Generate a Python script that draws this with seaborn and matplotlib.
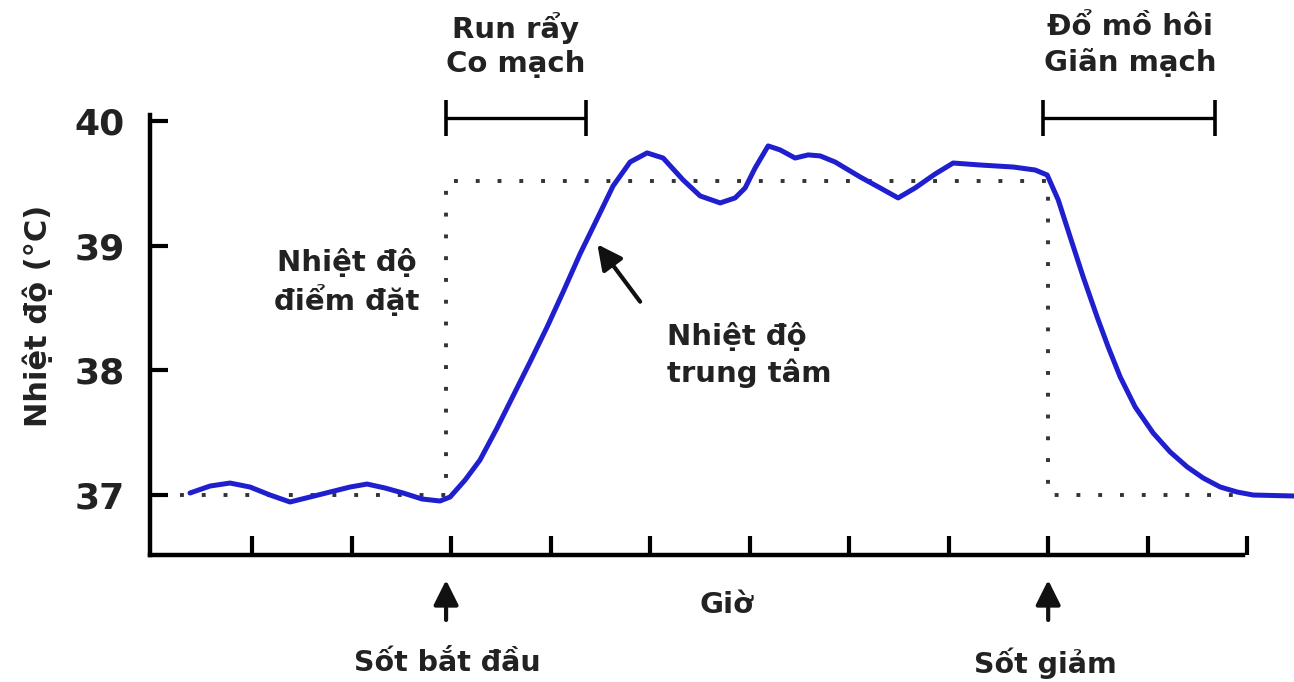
import matplotlib
matplotlib.use("Agg")
import matplotlib.pyplot as plt
import seaborn as sns
import pandas as pd

# ---------------- data ----------------
core_time = [0.377, 0.578, 0.779, 0.980, 1.181, 1.382, 1.583, 1.784, 1.985, 2.156,
             2.337, 2.518, 2.709, 2.889, 2.990, 3.141, 3.291, 3.462, 3.623, 3.794,
             3.965, 4.126, 4.296, 4.467, 4.628, 4.799, 4.970, 5.131, 5.332, 5.503,
             5.704, 5.854, 5.955, 6.055, 6.186, 6.307, 6.457, 6.588, 6.709, 6.859,
             7.111, 7.312, 7.492, 7.663, 7.864, 8.045, 8.317, 8.648, 8.869, 8.990,
             9.101, 9.221, 9.352, 9.492, 9.603, 9.724, 9.874, 10.055, 10.226, 10.397,
             10.558, 10.729, 10.899, 11.060, 11.472]
core_temp = [37.016, 37.072, 37.096, 37.064, 37.000, 36.944, 36.984, 37.024, 37.064, 37.088,
             37.056, 37.016, 36.968, 36.952, 36.984, 37.120, 37.281, 37.537, 37.794, 38.067,
             38.347, 38.628, 38.933, 39.213, 39.478, 39.670, 39.743, 39.702, 39.526, 39.398,
             39.342, 39.382, 39.462, 39.622, 39.799, 39.767, 39.702, 39.727, 39.719, 39.670,
             39.550, 39.462, 39.382, 39.462, 39.574, 39.662, 39.646, 39.630, 39.606, 39.566,
             39.366, 39.069, 38.748, 38.427, 38.187, 37.946, 37.706, 37.497, 37.345, 37.225,
             37.136, 37.064, 37.024, 37.000, 36.992]

set_time = [0.28, 2.95, 2.95, 9.00, 9.00, 11.00]
set_temp = [37.0, 37.0, 39.52, 39.52, 37.0, 37.0]

onset_t = 2.95
defervescence_t = 9.00
y_ticks = [37, 38, 39, 40]
x_ticks = list(range(1, 12))

shiver_span = (2.95, 4.36)
sweat_span = (8.95, 10.68)
bracket_level = 40.02

core = pd.DataFrame({"t": core_time, "temp": core_temp})
setp = pd.DataFrame({"t": set_time, "temp": set_temp})

# ---------------- style ----------------
sns.set_theme(style="white")
plt.rcParams["font.family"] = ["DejaVu Sans"]
plt.rcParams["font.weight"] = "bold"
TXT = "#222222"
BLUE = "#1f1fcf"

W, H = 1294, 682
fig = plt.figure(figsize=(W / 100, H / 100), dpi=100)
ax = fig.add_axes([150 / W, (682 - 555) / H, 1 - 150 / W, (555 - 115) / H])

sns.lineplot(data=setp, x="t", y="temp", ax=ax, sort=False, estimator=None,
             color="#333333", lw=2.8, linestyle=(0, (1, 4.6)), dash_capstyle="butt")
sns.lineplot(data=core, x="t", y="temp", ax=ax, sort=False, estimator=None,
             color=BLUE, lw=3.6, solid_joinstyle="round", solid_capstyle="round")
for l in ax.lines:
    l.set_clip_on(False)

ax.set_xlim(-0.025, 11.47)
ax.set_ylim(36.519, 40.047)

for s in ["top", "right"]:
    ax.spines[s].set_visible(False)
for s in ["left", "bottom"]:
    ax.spines[s].set_color("black")
    ax.spines[s].set_linewidth(3.2)
ax.spines["bottom"].set_bounds(-0.025, 10.96)

ax.set_xticks(x_ticks)
ax.set_xticklabels([])
ax.set_yticks(y_ticks)
ax.set_yticklabels([str(v) for v in y_ticks], fontsize=26, fontweight="bold", color=TXT)
ax.tick_params(axis="x", direction="in", length=13.5, width=3, color="black", bottom=True)
ax.tick_params(axis="y", direction="in", length=13, width=3, color="black", left=True, pad=18)
ax.set_xlabel("")
ax.set_ylabel("")

# brackets
for a, b in [shiver_span, sweat_span]:
    ax.plot([a, b], [bracket_level, bracket_level], color="black", lw=2.4, clip_on=False,
            solid_capstyle="butt")
    for x in (a, b):
        ax.plot([x, x], [bracket_level - 0.14, bracket_level + 0.15], color="black",
                lw=2.6, clip_on=False, solid_capstyle="butt")

# arrow to the core curve
ax.annotate("", xy=(4.47, 39.01), xytext=(4.90, 38.55),
            arrowprops=dict(arrowstyle="-|>,head_length=1.0,head_width=0.5",
                            lw=3, color="#111111", shrinkA=0, shrinkB=0,
                            mutation_scale=15),
            annotation_clip=False)

# up arrows below the axis
for tx in (onset_t, defervescence_t):
    ax.annotate("", xy=(tx, 36.318), xytext=(tx, 35.998),
                arrowprops=dict(arrowstyle="-|>,head_length=1.0,head_width=0.5",
                                lw=3, color="#111111", shrinkA=0, shrinkB=0,
                                mutation_scale=15),
                annotation_clip=False)

def ftext(x, y, s, **kw):
    fig.text(x / W, 1 - y / H, s, color=TXT, fontweight="bold", **kw)

ftext(38, 316, "Nhiệt độ (°C)", fontsize=22, rotation=90, ha="center", va="center")
ftext(727, 605, "Giờ", fontsize=21, ha="center", va="center")
ftext(447, 663, "Sốt bắt đầu", fontsize=20.5, ha="center", va="center")
ftext(1045, 663, "Sốt giảm", fontsize=20.5, ha="center", va="center")
ftext(516, 45, "Run rẩy\nCo mạch", fontsize=21, ha="center", va="center", linespacing=1.3)
ftext(1130, 45, "Đổ mồ hôi\nGiãn mạch", fontsize=21, ha="center", va="center", linespacing=1.3)
ftext(347, 282, "Nhiệt độ\nđiểm đặt", fontsize=21, ha="center", va="center", linespacing=1.3)
ftext(667, 355, "Nhiệt độ\ntrung tâm", fontsize=21, ha="left", va="center", linespacing=1.3,
      multialignment="left")

fig.savefig("out.png", dpi=100)
